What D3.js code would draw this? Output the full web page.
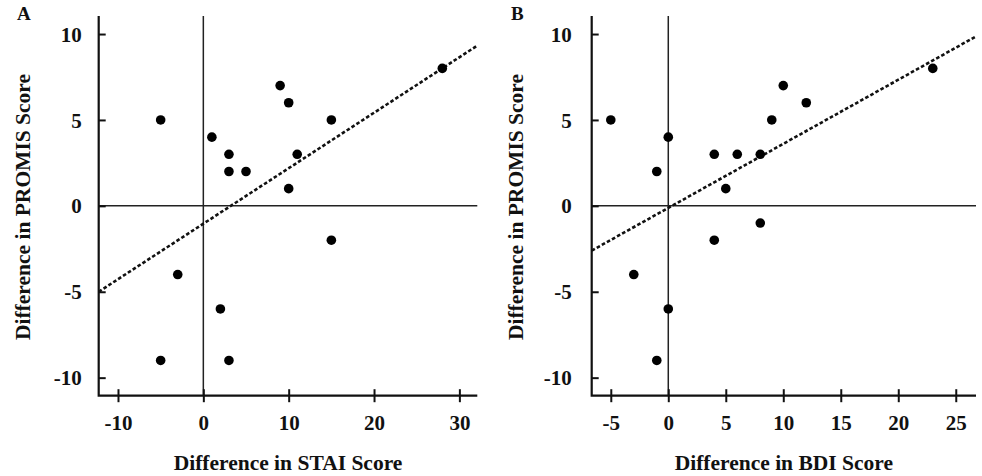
<!DOCTYPE html>
<html>
<head>
<meta charset="utf-8">
<script src="https://cdn.jsdelivr.net/npm/d3@7"></script>
<style>
  body { margin: 0; background: #fff; }
  svg text { font-family: "Liberation Serif", "Times New Roman", serif; font-weight: bold; fill: #111; }
</style>
</head>
<body>
<svg width="982" height="476"></svg>
<script>

// DATA

var staiDiff   = [-5, 1, 3, 3, 5, 9, 10, 10, 11, 15, 28, 15, -3, 2, -5, 3];
var promisA    = [5, 4, 3, 2, 2, 7, 6, 1, 3, 5, 8, -2, -4, -6, -9, -9];

var bdiDiff    = [-5, 0, -1, 4, 6, 8, 5, 9, 10, 12, 23, 8, 4, -3, 0, -1];
var promisB    = [5, 4, 2, 3, 3, 3, 1, 5, 7, 6, 8, -1, -2, -4, -6, -9];

// fitted lines: [intercept, slope]
var fitA = [-1.04, 0.323];
var fitB = [-0.12, 0.373];

var xTicksA = [-10, 0, 10, 20, 30];
var xTicksB = [-5, 0, 5, 10, 15, 20, 25];
var yTicks  = [-10, -5, 0, 5, 10];



var svg = d3.select("svg");

var panels = [
    {
        letter: "A", lx: 17, xs: staiDiff, ys: promisA, fit: fitA,
        xDomain: [-12.26, 32.1], left: 98.7, right: 477.3,
        xTicks: xTicksA, xTitle: "Difference in STAI Score", labelGap: 17
    },
    {
        letter: "B", lx: 511, xs: bdiDiff, ys: promisB, fit: fitB,
        xDomain: [-6.66, 26.76], left: 591.7, right: 976,
        xTicks: xTicksB, xTitle: "Difference in BDI Score", labelGap: 20
    }
];

var plotTop = 16, plotBottom = 395.7;

panels.forEach(drawPanel);

function drawPanel(p) {
    var g = svg.append("g");

    var x = d3.scaleLinear().domain(p.xDomain).range([p.left, p.right]);
    var y = d3.scaleLinear().domain([-11.05, 11.05]).range([plotBottom, plotTop]);

    // zero lines
    g.append("line")
        .attr("x1", p.left).attr("x2", p.right)
        .attr("y1", y(0)).attr("y2", y(0))
        .attr("stroke", "#222").attr("stroke-width", 1.5);
    g.append("line")
        .attr("x1", x(0)).attr("x2", x(0))
        .attr("y1", plotTop).attr("y2", plotBottom)
        .attr("stroke", "#222").attr("stroke-width", 1.5);

    // axes, ticks cross the line
    var xAxis = d3.axisBottom(x).tickValues(p.xTicks).tickFormat(String)
        .tickSize(6.5).tickSizeOuter(0).tickPadding(0);
    var gX = g.append("g")
        .attr("transform", "translate(0," + plotBottom + ")")
        .call(xAxis);
    gX.select(".domain").remove();
    gX.selectAll(".tick line").attr("y1", -6.5).attr("stroke", "#111").attr("stroke-width", 2);
    gX.selectAll(".tick text")
        .attr("y", 34).attr("dy", null)
        .style("font-size", "21px");

    var yAxis = d3.axisLeft(y).tickValues(yTicks).tickFormat(String)
        .tickSize(7).tickSizeOuter(0).tickPadding(0);
    var gY = g.append("g")
        .attr("transform", "translate(" + p.left + ",0)")
        .call(yAxis);
    gY.select(".domain").remove();
    gY.selectAll(".tick line").attr("x2", 7).attr("stroke", "#111").attr("stroke-width", 2);
    gY.selectAll(".tick text")
        .attr("x", -p.labelGap).attr("dy", "0.34em")
        .style("font-size", "21px");

    // axis lines
    g.append("path")
        .attr("d", "M" + p.left + "," + plotTop + "V" + plotBottom + "H" + p.right)
        .attr("fill", "none").attr("stroke", "#111").attr("stroke-width", 2.2);

    // regression line, clipped to the plot box
    var clipId = "clip" + p.letter;
    g.append("clipPath").attr("id", clipId)
        .append("rect")
        .attr("x", p.left).attr("y", plotTop)
        .attr("width", p.right - p.left).attr("height", plotBottom - plotTop);

    var line = d3.line()
        .x(function (d) { return x(d); })
        .y(function (d) { return y(p.fit[0] + p.fit[1] * d); });

    g.append("path")
        .datum(p.xDomain)
        .attr("d", line)
        .attr("clip-path", "url(#" + clipId + ")")
        .attr("fill", "none")
        .attr("stroke", "#111")
        .attr("stroke-width", 2.6)
        .attr("stroke-dasharray", "3.6,2.2");

    // points
    g.selectAll(".dot")
        .data(p.xs.map(function (v, i) { return [v, p.ys[i]]; }))
        .enter().append("circle")
        .attr("class", "dot")
        .attr("r", 4.8)
        .attr("cx", function (d) { return x(d[0]); })
        .attr("cy", function (d) { return y(d[1]); })
        .attr("fill", "#000");

    // titles
    g.append("text")
        .attr("x", (p.left + p.right) / 2)
        .attr("y", 470)
        .attr("text-anchor", "middle")
        .style("font-size", "21.5px")
        .text(p.xTitle);

    g.append("text")
        .attr("transform", "translate(" + (p.left - 69) + "," + 207 + ") rotate(-90)")
        .attr("text-anchor", "middle")
        .style("font-size", "21.5px")
        .text("Difference in PROMIS Score");

    g.append("text")
        .attr("x", p.lx)
        .attr("y", 20)
        .style("font-size", "19px")
        .text(p.letter);
}

</script>
</body>
</html>
